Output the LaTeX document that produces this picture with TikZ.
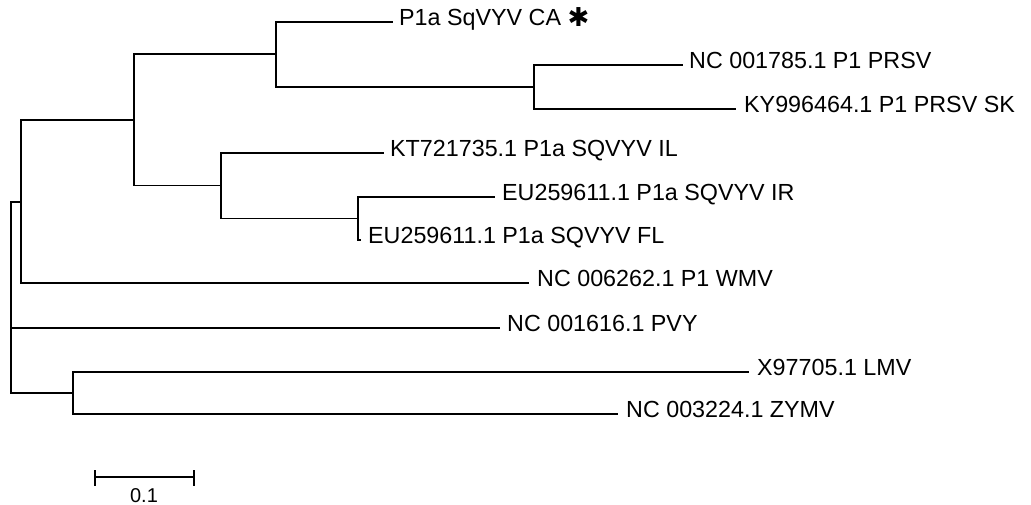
\documentclass[tikz,border=0pt]{standalone}
\usepackage{fontspec}
\setmainfont{Liberation Sans}
\newfontfamily\symfont{DejaVu Sans}
\begin{document}
\begin{tikzpicture}[x=1pt,y=-1pt,
  branch/.style={line width=1.7pt,line cap=rect},
  leaf/.style={anchor=west,inner ysep=0pt,inner xsep=0pt,text height=0.72em,text depth=0pt,
    font=\fontsize{23.3}{28}\selectfont},
  scalelbl/.style={font=\fontsize{20}{24}\selectfont,inner sep=0pt}]
\useasboundingbox (0,0) rectangle (1031,505);
% internal nodes
\coordinate (r) at (11,297.5);
\coordinate (a) at (21,202);
\coordinate (b) at (134,120);
\coordinate (c) at (276,54);
\coordinate (d) at (534,87);
\coordinate (e) at (221,185.5);
\coordinate (f) at (358,218.5);
\coordinate (g) at (73,393);
% leaf line ends
\coordinate (lCA) at (392,22);
\coordinate (lPRSV) at (682,65);
\coordinate (lSK) at (735,109);
\coordinate (lIL) at (383,153);
\coordinate (lIR) at (494,197);
\coordinate (lFL) at (360,240);
\coordinate (lWMV) at (528,283);
\coordinate (lPVY) at (499,328);
\coordinate (lLMV) at (748,372);
\coordinate (lZYMV) at (617,414);
% labels
\node[leaf] (tCA) at (399,22) {P1a SqVYV CA \raisebox{-1pt}{\symfont\fontsize{26}{28}\selectfont ✱}};
\node[leaf] (tPRSV) at (689,65) {NC 001785.1 P1 PRSV};
\node[leaf] (tSK) at (744,109) {KY996464.1 P1 PRSV SK};
\node[leaf] (tIL) at (390,153) {KT721735.1 P1a SQVYV IL};
\node[leaf] (tIR) at (502,197) {EU259611.1 P1a SQVYV IR};
\node[leaf] (tFL) at (368,240) {EU259611.1 P1a SQVYV FL};
\node[leaf] (tWMV) at (537,283) {NC 006262.1 P1 WMV};
\node[leaf] (tPVY) at (507,328) {NC 001616.1 PVY};
\node[leaf] (tLMV) at (757,372) {X97705.1 LMV};
\node[leaf] (tZYMV) at (626,414) {NC 003224.1 ZYMV};
% branches
\draw[branch] (r) |- (a);
\draw[branch] (r) |- (lPVY);
\draw[branch] (r) |- (g);
\draw[branch] (a) |- (b);
\draw[branch] (a) |- (lWMV);
\draw[branch] (b) |- (c);
\draw[branch] (b) |- (e);
\draw[branch] (c) |- (lCA);
\draw[branch] (c) |- (d);
\draw[branch] (d) |- (lPRSV);
\draw[branch] (d) |- (lSK);
\draw[branch] (e) |- (lIL);
\draw[branch] (e) |- (f);
\draw[branch] (f) |- (lIR);
\draw[branch] (f) |- (lFL);
\draw[branch] (g) |- (lLMV);
\draw[branch] (g) |- (lZYMV);
% scale bar
\coordinate (s1) at (95,477);
\coordinate (s2) at (194,477);
\draw[branch] (s1) -- (s2);
\draw[branch,line cap=butt] ([yshift=-8.5pt]s1) -- ([yshift=7pt]s1);
\draw[branch,line cap=butt] ([yshift=-8.5pt]s2) -- ([yshift=7pt]s2);
\node[scalelbl] (sl) at (144,495.5) {0.1};
\end{tikzpicture}
\end{document}
